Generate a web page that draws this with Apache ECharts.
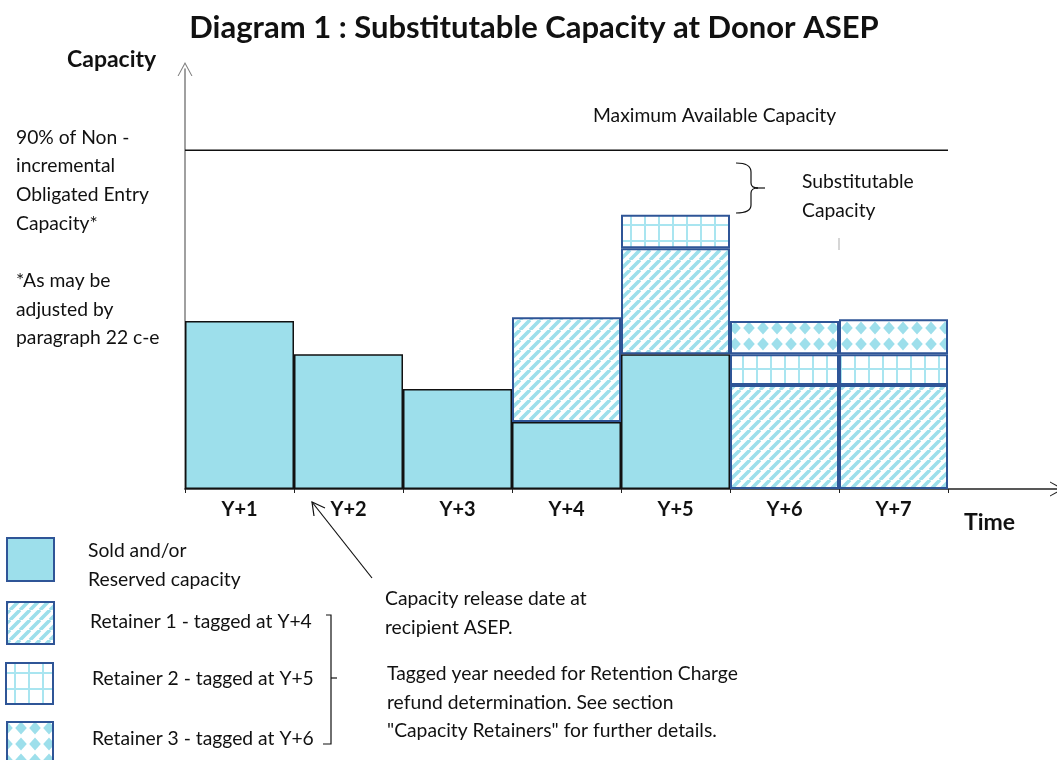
<!DOCTYPE html>
<html>
<head>
<meta charset="utf-8">
<title>Substitutable Capacity at Donor ASEP</title>
<script src="https://cdn.jsdelivr.net/npm/echarts@6/dist/echarts.min.js"></script>
<style>
  html, body { margin: 0; padding: 0; background: #fff; }
  #chart { width: 1057px; height: 760px; }
</style>
</head>
<body>
<div id="chart"></div>
<script>
// data (max available capacity = 100)
const categories = ['Y+1', 'Y+2', 'Y+3', 'Y+4', 'Y+5', 'Y+6', 'Y+7', ''];
const sold = [49.6, 39.8, 29.5, 19.8, 39.8, null, null, null];
const retainer1 = [null, null, null, 30.9, 31.3, 30.7, 30.7, null];
const retainer2 = [null, null, null, null, 9.9, 9.1, 9.1, null];
const retainer3 = [null, null, null, null, null, 9.8, 10.3, null];
const maxCapacity = 100;
const maxLineSpan = [0, 7];

const CYAN = '#9ddfeb';
const BLUE = '#2f5597';
const FONT = 'Lato, "Open Sans", sans-serif';

// pattern tiles
function tile(w, h, draw) {
  const c = document.createElement('canvas');
  c.width = w; c.height = h;
  const g = c.getContext('2d');
  g.fillStyle = '#fff';
  g.fillRect(0, 0, w, h);
  draw(g);
  return { image: c, repeat: 'repeat' };
}
const stripes = tile(10, 10, g => {
  g.strokeStyle = CYAN; g.lineWidth = 3.6;
  g.beginPath();
  [-10, 0, 10].forEach(o => { g.moveTo(o, 10); g.lineTo(o + 10, 0); });
  g.stroke();
});
const grid = tile(14, 16, g => {
  g.fillStyle = '#a9e5f0';
  g.fillRect(0, 0, 2, 16);
  g.fillRect(0, 0, 14, 2);
});
const diamonds = tile(14, 16, g => {
  g.fillStyle = CYAN;
  g.beginPath();
  g.moveTo(7, 1.5); g.lineTo(12.8, 8); g.lineTo(7, 14.5); g.lineTo(1.2, 8);
  g.closePath(); g.fill();
});

const chart = echarts.init(document.getElementById('chart'));

function txt(x, y, text, opt) {
  return {
    type: 'text', x: x, y: y, silent: true,
    style: Object.assign({
      text: text, fill: '#111', fontFamily: FONT, fontSize: 19.3,
      verticalAlign: 'middle', align: 'left'
    }, opt || {})
  };
}
function box(x, y, w, h, fill) {
  return {
    type: 'rect', silent: true, shape: { x: x, y: y, width: w, height: h },
    style: { fill: fill, stroke: BLUE, lineWidth: 2 }
  };
}
function line(points, color) {
  return {
    type: 'polyline', silent: true, shape: { points: points },
    style: { stroke: color || '#111', lineWidth: 1.2, fill: null }
  };
}
function curve(x1, y1, cx, cy, x2, y2) {
  return {
    type: 'bezierCurve', silent: true,
    shape: { x1: x1, y1: y1, cpx1: cx, cpy1: cy, x2: x2, y2: y2 },
    style: { stroke: '#111', lineWidth: 1.2, fill: null }
  };
}

const chevron = 'path://M0,14 L7.5,0 L15,14 L13.9,14 L7.5,2.2 L1.1,14 Z';

chart.setOption({
  animation: false,
  grid: { left: 185, right: 0, top: 69, bottom: 271 },
  xAxis: [{
    type: 'category',
    data: categories,
    axisLine: {
      lineStyle: { color: '#222', width: 1.5 },
      symbol: ['none', chevron], symbolSize: [15, 14]
    },
    axisTick: { show: true, length: 4, lineStyle: { color: '#222' } },
    axisLabel: {
      color: '#111', fontFamily: FONT, fontWeight: 'bold', fontSize: 20, margin: 11
    }
  }, {
    type: 'value', min: 0, max: 8, show: false
  }],
  yAxis: {
    type: 'value', min: 0, max: 124,
    axisLine: {
      show: true,
      lineStyle: { color: '#808080', width: 1.5 },
      symbol: ['none', chevron], symbolSize: [15, 14]
    },
    axisTick: { show: false },
    axisLabel: { show: false },
    splitLine: { show: false }
  },
  series: [{
    name: 'Sold and/or Reserved capacity',
    type: 'bar', stack: 'cap', barCategoryGap: '0%',
    data: sold,
    itemStyle: { color: CYAN, borderColor: '#111', borderWidth: 1.5 }
  }, {
    name: 'Retainer 1', type: 'bar', stack: 'cap', barCategoryGap: '0%',
    data: retainer1,
    itemStyle: { color: stripes, borderColor: BLUE, borderWidth: 2 }
  }, {
    name: 'Retainer 2', type: 'bar', stack: 'cap', barCategoryGap: '0%',
    data: retainer2,
    itemStyle: { color: grid, borderColor: BLUE, borderWidth: 2 }
  }, {
    name: 'Retainer 3', type: 'bar', stack: 'cap', barCategoryGap: '0%',
    data: retainer3,
    itemStyle: { color: diamonds, borderColor: BLUE, borderWidth: 2 }
  }, {
    name: 'Maximum Available Capacity',
    type: 'line', xAxisIndex: 1, symbol: 'none',
    data: maxLineSpan.map(x => [x, maxCapacity]),
    lineStyle: { color: '#111', width: 1.5 }
  }],
  graphic: [
    txt(534, 28, 'Diagram 1 : Substitutable Capacity at Donor ASEP',
      { fontSize: 31, fontWeight: 'bold', align: 'center' }),
    txt(67, 60, 'Capacity', { fontSize: 23, fontWeight: 'bold' }),
    txt(964, 523, 'Time', { fontSize: 23, fontWeight: 'bold' }),
    txt(16, 123, '90% of Non -\nincremental\nObligated Entry\nCapacity*\n\n*As may be\nadjusted by\nparagraph 22 c-e',
      { verticalAlign: 'top', lineHeight: 28.7 }),
    txt(593, 116, 'Maximum Available Capacity'),
    txt(802, 182, 'Substitutable'),
    txt(802, 211, 'Capacity'),
    // brace for substitutable capacity
    curve(736, 163, 751, 163, 751, 172),
    line([[751, 172], [751, 183]]),
    curve(751, 183, 751, 188, 758, 188),
    line([[756, 188], [765, 188]]),
    curve(758, 188, 751, 188, 751, 193),
    line([[751, 193], [751, 205]]),
    curve(751, 205, 751, 213, 736, 213),
    line([[839, 238], [839, 250]], '#bbb'),
    // capacity release arrow
    line([[372, 578], [312, 502]]),
    line([[314, 516], [312, 502], [325, 508]]),
    txt(385, 599, 'Capacity release date at'),
    txt(385, 628, 'recipient ASEP.'),
    txt(387, 674, 'Tagged year needed for Retention Charge'),
    txt(387, 703, 'refund determination. See section'),
    txt(387, 731, '"Capacity Retainers" for further details.'),
    // legend
    box(7, 538, 47, 43, CYAN),
    box(7, 602, 47, 42, stripes),
    box(6, 663, 47, 41, grid),
    box(7, 722, 46, 44, diamonds),
    txt(88, 551, 'Sold and/or'),
    txt(88, 580, 'Reserved capacity'),
    txt(90, 622, 'Retainer 1 - tagged at Y+4'),
    txt(92, 679, 'Retainer 2 - tagged at Y+5'),
    txt(92, 739, 'Retainer 3 - tagged at Y+6'),
    line([[326, 615], [331, 615], [331, 744], [323, 744]]),
    line([[331, 678], [337, 678]])
  ]
});
</script>
</body>
</html>
